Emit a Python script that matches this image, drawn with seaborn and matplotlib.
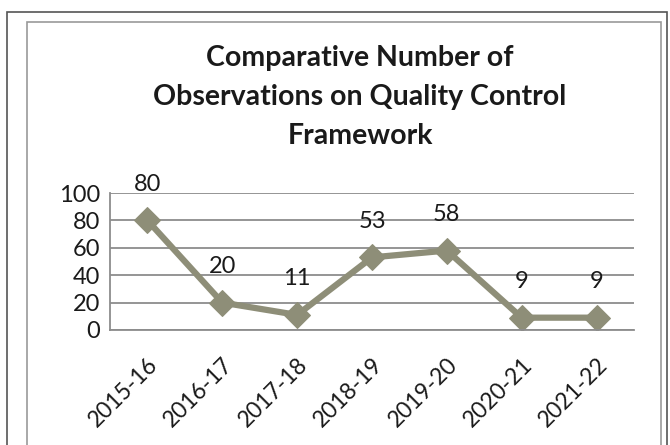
import numpy as np
import pandas as pd
import seaborn as sns
import matplotlib.pyplot as plt
from matplotlib.patches import Rectangle

years = ['2015-16', '2016-17', '2017-18', '2018-19', '2019-20', '2020-21', '2021-22']
observations = [80, 20, 11, 53, 58, 9, 9]

df = pd.DataFrame({'Year': years, 'Observations': observations})
df['pos'] = np.arange(len(years))

sns.set_style('white')
plt.rcParams['font.family'] = ['Lato', 'DejaVu Sans']

W, H = 670, 445
fig = plt.figure(figsize=(W / 100, H / 100), dpi=100)
ax = fig.add_axes([110 / W, 1 - 330 / H, (634 - 110) / W, (330 - 193) / H])

line_color = '#8e8e78'
sns.lineplot(data=df, x='pos', y='Observations', ax=ax, color=line_color,
             linewidth=4.5, marker='D', markersize=13, markeredgecolor=line_color)

for x, y in zip(df['pos'], df['Observations']):
    ax.annotate(str(y), (x, y), xytext=(0, 26), textcoords='offset points',
                ha='center', va='center', fontsize=17, color='#1a1a1a')

ax.set_xlim(-0.5, len(years) - 0.5)
ax.set_ylim(0, 100)
ax.set_yticks(range(0, 101, 20))
ax.yaxis.grid(True, color='#8c8c8c', linewidth=1.3)
ax.set_axisbelow(True)
ax.tick_params(axis='y', length=0, labelsize=17, pad=7, labelcolor='#1a1a1a')

# category ticks between points, labels at points
ax.set_xticks(np.arange(-0.5, len(years), 1.0))
ax.set_xticklabels([])
ax.set_xticks(df['pos'], minor=True)
ax.set_xticklabels(years, minor=True, rotation=45, ha='right',
                   rotation_mode='anchor', fontsize=16.5, color='#1a1a1a')
ax.tick_params(axis='x', which='major', length=7, color='#8c8c8c', width=1.3)
ax.tick_params(axis='x', which='minor', length=0, pad=17)

for side in ['top', 'right']:
    ax.spines[side].set_visible(False)
ax.spines['left'].set_color('#8c8c8c')
ax.spines['bottom'].set_color('#8c8c8c')
ax.spines['left'].set_linewidth(1.3)
ax.spines['bottom'].set_linewidth(1.3)
ax.set_xlabel('')
ax.set_ylabel('')

fig.text(360 / W, 1 - 97 / H,
         'Comparative Number of\nObservations on Quality Control\nFramework',
         ha='center', va='center', fontsize=20.5, fontweight='bold',
         linespacing=1.62, color='#1a1a1a')

# frames around the chart (bottom cut off)
fig.patches.append(Rectangle((7 / W, -0.1), (667 - 7) / W, 1.1 - 12 / H,
                             transform=fig.transFigure, fill=False,
                             edgecolor='#555555', linewidth=1.2))
fig.patches.append(Rectangle((27 / W, -0.1), (661 - 27) / W, 1.1 - 22 / H,
                             transform=fig.transFigure, fill=False,
                             edgecolor='#999999', linewidth=1.2))

fig.savefig('out.png', dpi=100)
